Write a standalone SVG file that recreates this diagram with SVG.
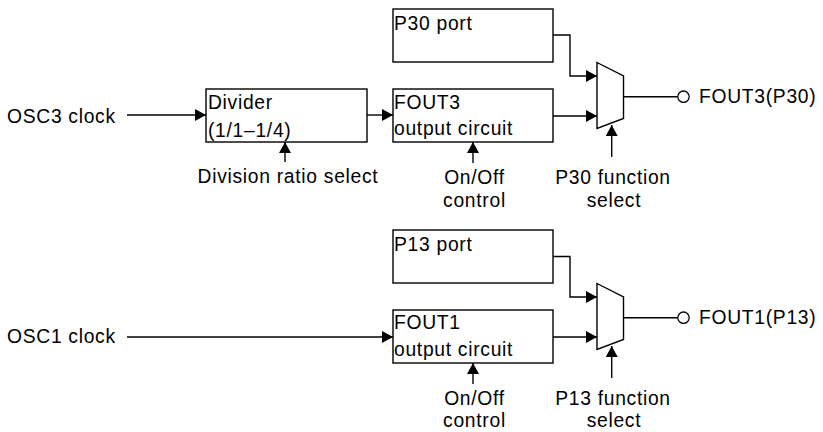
<svg xmlns="http://www.w3.org/2000/svg" width="823" height="432" viewBox="0 0 823 432">
<defs>
<marker id="arr" markerUnits="userSpaceOnUse" markerWidth="12" markerHeight="12" refX="11" refY="6" orient="auto">
<path d="M0,0 L11,6 L0,12 z" fill="#000"/>
</marker>
<style>
text{font-family:"Liberation Sans",Arial,sans-serif;font-size:19.3px;letter-spacing:0.7px;fill:#000}
.box{fill:#fff;stroke:#000;stroke-width:1.4}
.mux{fill:#fff;stroke:#000;stroke-width:1.4}
.w{fill:none;stroke:#000;stroke-width:1.4}
.a{fill:none;stroke:#000;stroke-width:1.4;marker-end:url(#arr)}
.m{text-anchor:middle}
</style>
</defs>
<rect width="823" height="432" fill="#fff"/>

<g id="connectors">
<path class="a" d="M127,115 H206"/>
<path class="a" d="M367,115 H393"/>
<path class="a" d="M553,35 H570 V76 H597"/>
<path class="a" d="M553,116 H597"/>
<path class="w" d="M623.5,96.7 H678"/>
<path class="a" d="M285,162 V142"/>
<path class="a" d="M473,163 V142"/>
<path class="a" d="M611.7,157 V125"/>

<path class="a" d="M127,337 H393"/>
<path class="a" d="M553,256.5 H570 V297 H597"/>
<path class="a" d="M553,337 H597"/>
<path class="w" d="M623.5,317.7 H678"/>
<path class="a" d="M473,384 V363"/>
<path class="a" d="M611.7,378 V346"/>
</g>

<g id="osc3"><text x="7" y="123">OSC3 clock</text></g>
<g id="divider">
<rect class="box" x="206" y="89" width="161" height="53"/>
<text x="208" y="109">Divider</text>
<text x="208" y="137">(1/1–1/4)</text>
</g>
<g id="divsel"><text class="m" x="288" y="183">Division ratio select</text></g>
<g id="p30port">
<rect class="box" x="393" y="9" width="160" height="53"/>
<text x="394" y="30">P30 port</text>
</g>
<g id="fout3">
<rect class="box" x="393" y="89" width="160" height="53"/>
<text x="394" y="108.5">FOUT3</text>
<text x="394" y="135">output circuit</text>
</g>
<g id="onoff3">
<text class="m" x="474.5" y="184">On/Off</text>
<text class="m" x="474.5" y="206.5">control</text>
</g>
<g id="mux3"><path class="mux" d="M597,62.5 L623.5,76 L623.5,118.5 L597,128.5 Z"/></g>
<g id="p30sel">
<text class="m" x="613" y="184">P30 function</text>
<text class="m" x="614" y="206.5">select</text>
</g>
<g id="out3">
<circle cx="683.5" cy="96.7" r="5.7" fill="#fff" stroke="#000" stroke-width="1.3"/>
<text x="699" y="103.3">FOUT3(P30)</text>
</g>

<g id="osc1"><text x="7" y="343.3">OSC1 clock</text></g>
<g id="p13port">
<rect class="box" x="393" y="230" width="160" height="53"/>
<text x="394" y="250.7">P13 port</text>
</g>
<g id="fout1">
<rect class="box" x="393" y="310" width="160" height="53"/>
<text x="394" y="328.5">FOUT1</text>
<text x="394" y="355.5">output circuit</text>
</g>
<g id="onoff1">
<text class="m" x="474.5" y="404.5">On/Off</text>
<text class="m" x="474.5" y="426.5">control</text>
</g>
<g id="mux1"><path class="mux" d="M597,283.5 L623.5,297 L623.5,339.5 L597,349.5 Z"/></g>
<g id="p13sel">
<text class="m" x="613" y="404.5">P13 function</text>
<text class="m" x="614" y="426.5">select</text>
</g>
<g id="out1">
<circle cx="683.5" cy="317.7" r="5.7" fill="#fff" stroke="#000" stroke-width="1.3"/>
<text x="699" y="323.5">FOUT1(P13)</text>
</g>
</svg>
